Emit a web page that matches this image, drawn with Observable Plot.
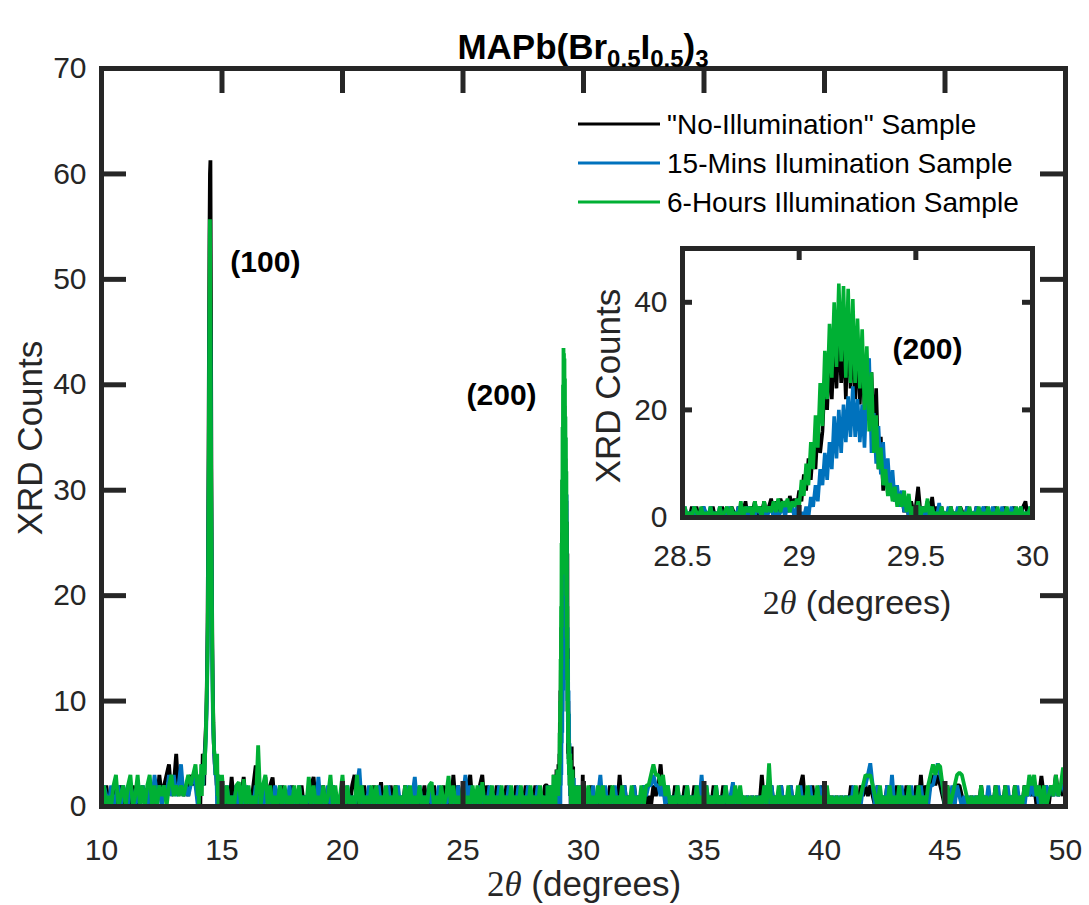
<!DOCTYPE html>
<html><head><meta charset="utf-8">
<script src="https://cdn.jsdelivr.net/npm/d3@7"></script>
<script src="https://cdn.jsdelivr.net/npm/@observablehq/plot@0.6"></script>
<style>
body{margin:0;background:#fff;}
#wrap{position:relative;width:1089px;height:905px;overflow:hidden;background:#fff;}
#wrap svg{display:block;max-width:none;}
#inset{position:absolute;left:582px;top:235px;}
</style></head><body><div id="wrap"></div>
<script>
// ---------- tick labels / names ----------
const xTicksMain = [10,15,20,25,30,35,40,45,50];
const yTicksMain = [0,10,20,30,40,50,60,70];
const xTicksInset = [28.5,29,29.5,30];
const yTicksInset = [0,20,40];
const seriesNames = ['"No-Illumination" Sample', "15-Mins Ilumination Sample", "6-Hours Illumination Sample"];
const seriesColors = ["#000000", "#0072BD", "#00B034"];
const titleParts = [["MAPb(Br",""],["0.5","sub"],["I",""],["0.5","sub"],[")",""],["3","sub"]];
const mainAnnotations = [{x:16.8, y:51.6, label:"(100)"},{x:26.6, y:39.0, label:"(200)"}];
const insetAnnotations = [{x:29.55, y:31.2, label:"(200)"}];

// sampling grids of the segments (2θ start, step)
const segStarts = [10.0, 14.0, 15.1, 28.5, 30.1];
const segSteps  = [0.1, 0.02, 0.1, 0.01, 0.1];

// ---------- "No-Illumination" (black) ----------
const blackA = [1,0,2,0,1,0,2,0,2,1, 0,2,0,2,0,1,0,2,1,0, 2,0,2,0,3,1,2,3,4,1, 2,5,1,3,1,2,1,3,2,3];
const blackB = [2,0,3,1,3,0,3,1,4,2, 5,2,4,2,5,6,7,8,10,13, 17,24,33,44,54,60,61.3,48,32,22, 15,11,8,6,5,4,4,3,3,2, 3,0,3,1,2,0,2,1,2,0, 2];
const blackC = [0,1,0,2.8,0,2,0,1,2.8,0, 1,0,2,3.9,0,1,0,2.8,0,2, 2.75,0,1,0,2,0,1,0,2,0, 1,0,2,0,1,0,2,2.8,0,1,
 0,2,0,1,0,2,0,1,0,2, 0,1,0,2,3,0,1,0,2,0, 1,0,2,0,1,2.3,0,1,0,2, 0,2,0,1,0,2,0,1,0,2, 0,1,0,2,0,1,0,2,0,1,
 0,2,0,1,0,3,0,2,0,1, 0,2,3,0,1,0,2,3,0,2, 0,1,0,2,0,1,0,2,0,1, 0,2,0,1,0,2,0,1,0,2, 0,1,0,2];
const blackD = [2,0,1,0,2,0,2,0,1,2, 0,1,0,2,0,1,0,2,0,1, 0,2,1,0,2,0,1,3,0,2, 1,3,0,2,1,3,0,2,3.5,1, 3,1,3.5,2,3,1,4,2,3.5,2,
 5,3,8,5,11,7,13,9,17,12, 16,26,20,31,22,33,24,36,25,34, 22,38,24,35,22,33,21,31,20,29, 18,27,14,24,9,15,5,10,4.5,7,
 6,3,5,2,4,1,3,0,3,1, 2,5.7,1,2,0,3,1,3.8,0,2, 0,2,0,1,0,2,0,1,0,2, 1,0,2,0,1,0,2,0,1,0, 2,0,1,0,2,0,1,0,2,0,
 1,0,2,0,1,0,2,3,0,1, 1];
const blackE = [1,0,2,0,1,0,2,0,1,0, 2,0,1,0,3,0,2,0,1,0, 2,0,1,0,2,0,1,0,2,1, 2,4,1,2,0,1,0,2,0,1, 0,2,0,1,0,2,0,1,0,2,
 0,1,0,2,0,1,0,2,0,1, 0,2,0,1,0,1,0,1,0,1, 0,1,0,3,0,1,0,2,0,1, 0,2,0,1,0,2,0,1,0,2, 3,0,1,0,2,0,1,0,2,0,
 1,0,1,0,1,0,1,0,1,0, 2,0,1,0,2,1,2,1,2,1, 0,2,0,1,0,2,0,1,0,2, 0,1,0,2,0,1,0,2,0,3, 0,2,1,2,3,2,3,2,1,0,
 2,0,1,2,2,2,1,0,1,0, 1,0,1,0,2,0,1,0,1,0, 2,0,1,0,2,0,1,0,2,0, 1,0,2,1,2,1,2,0,1,2.9, 1,2,0,2,1,3,1,2,1,4];

// ---------- 15-Mins (blue) ----------
const blueA = [0,2,1,0,2,0,1,2,0,2, 1,0,2,1,0,2,0,2,1,0, 2,0,3,1,2,0,2,1,3,1, 3,1,2,4,1,2,1,2,3,2];
const blueB = [0,2,3,1,2,3,1,3,2,3, 4,2,4,3,4,5,6,7,9,11, 14,19,26,35,44,50,44,34,25,18, 13,9,7,6,5,4,3,3,3,2, 0,3,1,0,2,1,0,2,1,0, 2];
const blueC = [0,2,0,1,0,2,0,1,0,2, 0,1,0,2,0,1,0,2,0,1, 0,2,0,2,0,1,0,2,0,1, 0,2,0,1,0,2,0,1,0,2.8,
 0,1,0,2,0,2,0,1,0,2, 0,2,0,1,0,2,3.6,0,1,0, 2,0,1,0,2,0,1,0,2,0, 1,0,2,0,1,0,2,0,1,2.8, 0,2,0,1,0,2,0,1,0,2,
 0,1,0,2,0,1,0,2,0,1, 3,0,2,0,1,0,2,0,1,0, 2,0,1,0,2,0,1,0,2,0, 1,0,2,0,1,0,2,0,1,0, 2,0,1,0];
const blueD = [0,2,0,1,0,2,0,1,0,2, 1,0,2,0,1,0,2,0,1,0, 2,0,1,0,2,0,1,0,2,0, 1,0,2,1,0,2,0,1,2,0, 2,0,1,2,0,3,1,2,0,2,
 0,1,0,2,0,3.8,2,6,3,9, 6,12,7,14,9,18.8,11,20,12,21, 14,22.5,15,24.4,15,22,14,21,13,24, 29.6,12,19.4,10,17,8,14,6,11,4,
 8.8,3,6,2,5,1,2.6,0,1,0, 1,0,2,0,1,0,2,0,1,0, 2.7,0,1,0,2,0,1,0,2,0, 1,0,2,0,1,0,2,0,1,2, 0,1,0,2,0,1,0,2,0,1,
 0,2,0,1,0,2,0,1,0,2, 0];
const blueE = [0,1,0,2,0,1,3,0,2,0, 1,0,2,0,1,0,2,0,1,0, 2,0,1,0,2,1,2,2,3,2, 2,1,2,0,2,0,1,0,2,0, 1,0,2,0,1,0,2,0,3,0,
 2,0,1,0,2,0,1,0,2,0, 1,2.3,0,1,0,1,0,1,0,1, 0,1,0,1,0,2,0,2,0,1, 0,2,0,1,0,2,0,1,0,2, 0,1,0,2,0,1,0,2,0,1,
 0,1,0,1,0,1,0,1,0,1, 0,2,0,1,0,2,2,3,4.1,2, 0,2,0,1,0,2,0,3,0,1, 0,2,0,1,0,2,0,1,0,2, 0,1,0,2,2,3,4.1,3,2,0,
 1,0,2,0,2,1,0,1,0,1, 0,1,0,1,0,1,0,2,0,1, 0,2,0,1,0,2,0,1,0,2, 0,1,0,2,1,2,1,2,0,1, 0,2,1,2,1,2,1,2,2,1];

// ---------- 6-Hours (green) ----------
const greenA = [0,2,0,1,0,2,3,0,1,2, 0,2,3,0,1,3,0,2,0,2, 3,0,2,0,2,1,2,0,2,3, 1,2,1,2,1,2,3,2,3,4];
const greenB = [1,3,0,3,1,3,2,4,1,4, 2,4,3,5,3,5,6,8,10,12, 15,20,28,38,48,55.7,47,36,27,19, 14,10,8,6,5,5,4,3,4,4, 5,1,3,0,3,1,2,0,2,1, 3];
const greenC = [0,2,0,1,0,2,2.3,0,2.6,0, 2,0,1,0,5.8,0,2,3,0,2, 0,1,0,2,0,2,0,1,0,2, 0,2,0,1,0,2.8,0,2,0,1,
 0,2,0,1,3,0,2,0,1,3, 0,2,0,1,0,3,0,2,0,1, 0,2,0,2,0,1,0,2,0,1, 0,2,0,1,0,2,0,2,0,1, 0,2,0,1,0,2,2.3,0,1,0,
 2,0,1,2.9,0,2,0,1,0,2, 0,1,0,2,0,2,0,2.3,0,1, 0,2,0,1,0,2,0,1,0,2, 0,1,0,2,0,1,0,2,0,1, 0,2,0,1];
const greenD = [0,2,0,1,0,2,1,0,2,0, 1,0,2,0,1,0,2,0,1,2, 0,2,0,1,0,3,0,2,1,2, 0,3,1,2,0,3,1,2,1,3, 1,3.5,1,3,2,3.5,1,3,2,3.5,
 2,7,4,10,6,14,9,19,13,25, 17,31,22,36,26,40,28,43.5,29,43, 26,42.5,25,40.6,25,37,24,35,20,31.8, 16,27,12,19,9,13,6,9,4,6.4,
 3,5.7,2,4.4,2,5,1,4.4,0,2, 1,3,0,2,1,3.5,0,2,0,1, 0,2,0,1,0,2,0,1,0,2, 0,1,0,2,0,1,0,2,0,1, 0,2,0,1,0,2,0,1,0,2,
 0,1,0,2,0,2,0,1,0,2, 0];
const greenE = [0,2,0,1,0,2,0,2,0,1, 0,2,0,1,0,2,0,1,0,2, 0,1,0,2,0,2,2,3,4,3, 3,2,3,1,2,0,1,0,2,0, 1,0,2,0,1,0,2,0,1,0,
 2,0,1,0,2,0,1,0,2,0, 1,0,2,0,2,0,1,0,1,0, 1,0,1,0,2,0,4.1,0,1,0, 2,0,1,0,2,0,1,0,2,0, 1,0,2,0,1,0,2,0,1,0,
 2,0,1,0,1,0,1,0,1,0, 1,0,2,0,1,2,3,2.9,3,2, 1,0,2,0,1,0,2,0,1,0, 2,0,1,0,2,0,1,0,2,0, 1,0,2,3,4,3,4,3.8,2,0,
 2,0,1,2,3,3.2,3,2,1,0, 1,0,1,0,2,0,1,0,1,0, 2,0,1,0,2,0,1,0,2,0, 1,0,2,1,3,2,3,1,2,0, 2,0,1,2,1,3,1,2,3.7,2];

// ---------- build tables ----------
function toRows(segs){
  const out = [];
  segs.forEach((arr,k)=>arr.forEach((v,i)=>out.push({x: +(segStarts[k] + i*segSteps[k]).toFixed(3), y: v})));
  return out;
}
const mainSeries = [
  toRows([blackA, blackB, blackC, blackD, blackE]),
  toRows([blueA, blueB, blueC, blueD, blueE]),
  toRows([greenA, greenB, greenC, greenD, greenE])
];
const insetSeries = [blackD, blueD, greenD].map(arr => arr.map((v,i)=>({x: +(segStarts[3] + i*segSteps[3]).toFixed(3), y: v})));

// ---------- styling ----------
const font = '"Liberation Sans", Arial, Helvetica, sans-serif';
const ink = "#262626";
const W = 1089, H = 905;
const mL = 101, mR = 24, mT = 68, mB = 99;
const innerW = W - mL - mR, innerH = H - mT - mB;
const tick = 25;
const fmt = d => String(d);

const main = Plot.plot({
  width: W, height: H, marginLeft: mL, marginRight: mR, marginTop: mT, marginBottom: mB,
  style: {background: "white", fontFamily: font, color: ink, overflow: "visible"},
  x: {domain: [10, 50]},
  y: {domain: [0, 70]},
  marks: [
    ...mainSeries.map((s, i) => Plot.line(s, {x: "x", y: "y", stroke: seriesColors[i], strokeWidth: 3.8, strokeLinejoin: "miter"})),
    Plot.ruleX(xTicksMain.slice(1, -1), {x: d => d, insetTop: innerH - tick, stroke: ink, strokeWidth: 5}),
    Plot.ruleX(xTicksMain.slice(1, -1), {x: d => d, insetBottom: innerH - tick, stroke: ink, strokeWidth: 5}),
    Plot.ruleY(yTicksMain.slice(1, -1), {y: d => d, insetRight: innerW - tick, stroke: ink, strokeWidth: 5}),
    Plot.ruleY(yTicksMain.slice(1, -1), {y: d => d, insetLeft: innerW - tick, stroke: ink, strokeWidth: 5}),
    Plot.frame({stroke: ink, strokeWidth: 5}),
    Plot.axisX(xTicksMain, {tickSize: 0, tickPadding: 32, fontSize: 30, label: null, tickFormat: fmt, fill: ink}),
    Plot.axisY(yTicksMain, {tickSize: 0, tickPadding: 15, fontSize: 30, label: null, tickFormat: fmt, fill: ink}),
    Plot.text(mainAnnotations, {x: "x", y: "y", text: "label", fontWeight: "bold", fontSize: 30, fill: "black", fontFamily: font})
  ]
});

const iW = 468, iH = 385, iL = 100, iR = 18, iT = 13, iB = 103;
const iInnerW = iW - iL - iR, iInnerH = iH - iT - iB;
const inset = Plot.plot({
  width: iW, height: iH, marginLeft: iL, marginRight: iR, marginTop: iT, marginBottom: iB,
  style: {background: "transparent", fontFamily: font, color: ink, overflow: "visible"},
  x: {domain: [28.5, 30]},
  y: {domain: [0, 50]},
  marks: [
    Plot.frame({fill: "white"}),
    ...insetSeries.map((s, i) => Plot.line(s, {x: "x", y: "y", stroke: seriesColors[i], strokeWidth: 3.6, strokeLinejoin: "miter"})),
    Plot.ruleX(xTicksInset.slice(1, -1), {x: d => d, insetTop: iInnerH - 12, stroke: ink, strokeWidth: 5}),
    Plot.ruleX(xTicksInset.slice(1, -1), {x: d => d, insetBottom: iInnerH - 12, stroke: ink, strokeWidth: 5}),
    Plot.ruleY(yTicksInset.slice(1), {y: d => d, insetRight: iInnerW - 10, stroke: ink, strokeWidth: 5}),
    Plot.ruleY(yTicksInset.slice(1), {y: d => d, insetLeft: iInnerW - 10, stroke: ink, strokeWidth: 5}),
    Plot.frame({stroke: ink, strokeWidth: 5}),
    Plot.axisX(xTicksInset, {tickSize: 0, tickPadding: 27, fontSize: 30, label: null, tickFormat: fmt, fill: ink}),
    Plot.axisY(yTicksInset, {tickSize: 0, tickPadding: 15, fontSize: 30, label: null, tickFormat: fmt, fill: ink}),
    Plot.text(insetAnnotations, {x: "x", y: "y", text: "label", fontWeight: "bold", fontSize: 30, fill: "black", fontFamily: font})
  ]
});
inset.setAttribute("id", "inset");

const wrap = document.getElementById("wrap");
wrap.appendChild(main);
wrap.appendChild(inset);

// ---------- texts: title, axis labels, legend ----------
const svg = d3.select(main);
const title = svg.append("text").attr("x", 583).attr("y", 59).attr("text-anchor", "middle")
  .attr("font-family", font).attr("font-weight", "bold").attr("font-size", 35).attr("fill", "black");
titleParts.forEach(([t, kind], i) => {
  const prev = i > 0 ? titleParts[i-1][1] : "";
  const ts = title.append("tspan").text(t);
  if (kind === "sub") ts.attr("font-size", 24).attr("dy", 8);
  else if (prev === "sub") ts.attr("dy", -8);
});

function thetaLabel(g, x, y, size){
  const t = g.append("text").attr("x", x).attr("y", y).attr("text-anchor", "middle")
    .attr("font-size", size).attr("fill", ink);
  t.append("tspan").attr("font-family", '"Liberation Serif", "DejaVu Serif", serif').text("2");
  t.append("tspan").attr("font-family", '"Liberation Serif", "DejaVu Serif", serif').attr("font-style", "italic").text("θ");
  t.append("tspan").attr("font-family", font).text(" (degrees)");
}
thetaLabel(svg, 584, 896, 35);
thetaLabel(svg, 857, 614, 34);

function yLabel(g, x, y, size){
  g.append("text").attr("transform", `translate(${x},${y}) rotate(-90)`).attr("text-anchor", "middle")
    .attr("dominant-baseline", "central").attr("font-family", font).attr("font-size", size).attr("fill", ink)
    .text("XRD Counts");
}
yLabel(svg, 29, 438, 35);
yLabel(svg, 607, 386, 35);

const legendRows = [124, 163, 202];
seriesNames.forEach((name, i) => {
  svg.append("line").attr("x1", 578).attr("x2", 660).attr("y1", legendRows[i]).attr("y2", legendRows[i])
    .attr("stroke", seriesColors[i]).attr("stroke-width", 3);
  svg.append("text").attr("x", 667).attr("y", legendRows[i]).attr("text-anchor", "start").attr("dominant-baseline", "central")
    .attr("font-family", font).attr("font-size", 28).attr("fill", "black").text(name);
});
</script></body></html>
